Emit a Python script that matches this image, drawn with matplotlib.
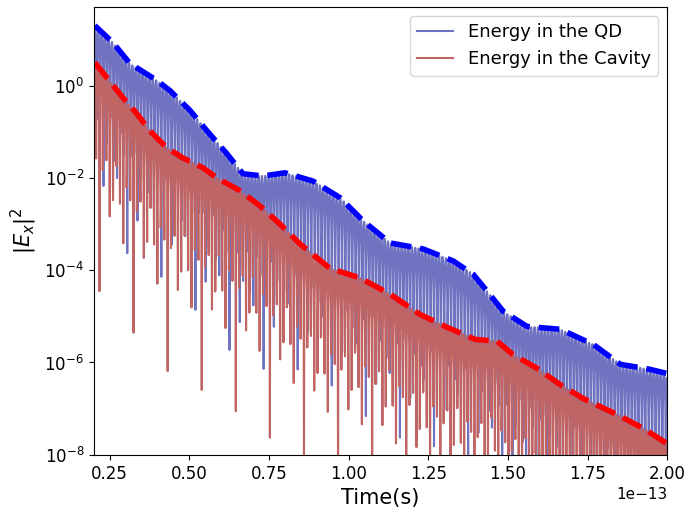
import matplotlib
matplotlib.use("Agg")
import matplotlib.pyplot as plt
import numpy as np

# envelope: time in units of 1e-13 s, log10 of |Ex|^2
qd_t = [0.203, 0.260, 0.313, 0.398, 0.439, 0.502, 0.555, 0.618, 0.668, 0.731,
        0.800, 0.888, 0.973, 1.045, 1.130, 1.234, 1.328, 1.391, 1.435, 1.485,
        1.560, 1.664, 1.768, 1.853, 1.947, 2.000]
qd_log = [1.30, 0.93, 0.48, 0.11, -0.11, -0.54, -0.98, -1.48, -1.91, -1.96,
          -1.89, -2.07, -2.43, -2.93, -3.41, -3.54, -3.80, -4.09, -4.46, -4.89,
          -5.22, -5.28, -5.61, -6.04, -6.15, -6.24]

cav_t = [0.203, 0.241, 0.291, 0.335, 0.376, 0.429, 0.480, 0.542, 0.586, 0.659,
         0.722, 0.784, 0.847, 0.941, 1.036, 1.130, 1.224, 1.303, 1.397, 1.466,
         1.516, 1.592, 1.664, 1.736, 1.843, 1.925, 2.000]
cav_log = [0.50, 0.17, -0.26, -0.61, -0.98, -1.35, -1.57, -1.78, -2.00, -2.28,
           -2.61, -3.00, -3.43, -3.96, -4.17, -4.52, -4.96, -5.22, -5.50, -5.54,
           -5.83, -6.13, -6.48, -6.78, -7.13, -7.43, -7.76]

# period of the |Ex|^2 oscillation (1e-13 s) and output sampling step
period = 0.0107
dt = period / 10.3

t = np.arange(0.2, 2.0, dt)
qd = 10 ** np.interp(t, qd_t, qd_log) * np.cos(np.pi * t / period) ** 2
cav = 10 ** np.interp(t, cav_t, cav_log) * np.cos(np.pi * t / period + 0.5) ** 2

fig = plt.figure(figsize=(6.9, 5.11), dpi=100)
ax = fig.add_axes([0.136, 0.110, 0.831, 0.876])

ax.plot(t * 1e-13, qd, color="#7074c0", lw=1.5, label="Energy in the QD")
ax.plot(t * 1e-13, cav, color="#c06464", lw=1.5, label="Energy in the Cavity")
ax.plot(np.array(qd_t) * 1e-13, 10 ** np.array(qd_log), "b--", lw=4)
ax.plot(np.array(cav_t) * 1e-13, 10 ** np.array(cav_log), "r--", lw=4)

ax.set_yscale("log")
ax.set_xlim(0.2e-13, 2.0e-13)
ax.set_ylim(1e-8, 50)
ax.set_xlabel("Time(s)", fontsize=15)
ax.set_ylabel(r"$|E_x|^2$", fontsize=15)
ax.tick_params(labelsize=12)
ax.xaxis.get_offset_text().set_fontsize(11)
ax.legend(loc="upper right", fontsize=13)

fig.savefig("out.png")
